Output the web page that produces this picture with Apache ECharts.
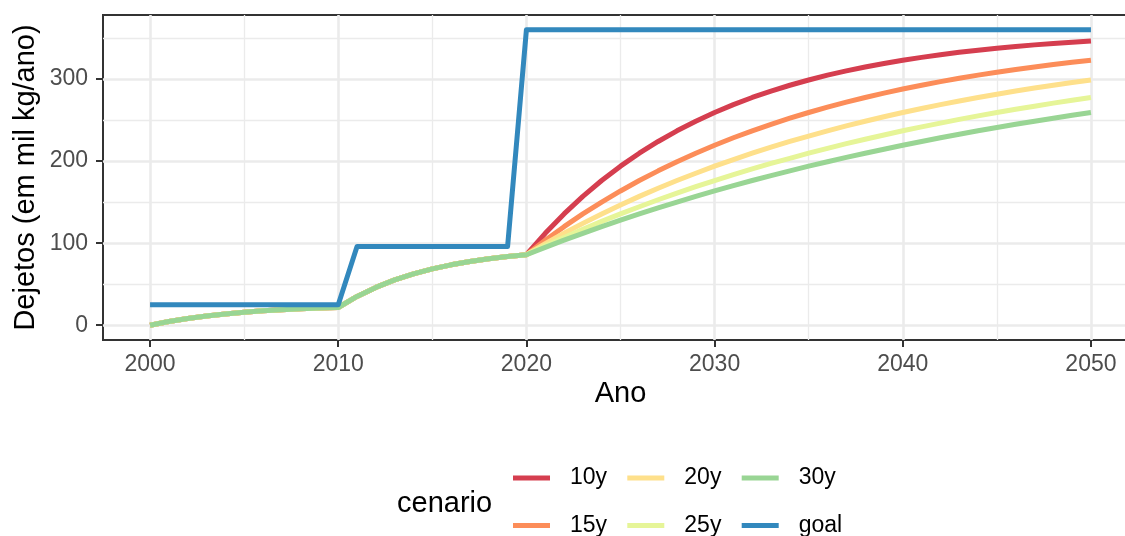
<!DOCTYPE html>
<html><head><meta charset="utf-8">
<script src="https://cdn.jsdelivr.net/npm/echarts@6/dist/echarts.min.js"></script>
<style>html,body{margin:0;padding:0;background:#fff}#c{width:1125px;height:536px}</style>
</head><body><div id="c"></div>
<script>
// ---------- data ----------
const years = [2000,2001,2002,2003,2004,2005,2006,2007,2008,2009,2010,2011,2012,2013,2014,2015,2016,2017,2018,2019,2020,
  2021,2022,2023,2024,2025,2026,2027,2028,2029,2030,2031,2032,2033,2034,2035,2036,2037,2038,2039,2040,
  2041,2042,2043,2044,2045,2046,2047,2048,2049,2050];
// 2000-2020, common to all scenarios
const shared = [0,4.5,8.2,11.3,13.8,15.8,17.5,18.8,20.0,20.9,21.6,35.1,46.1,55.2,62.6,68.6,73.6,77.7,81.0,83.7,85.9];
// 2021-2050 per scenario
const s10 = [112.0,135.6,157.0,176.3,193.8,209.6,223.9,236.9,248.6,259.2,268.8,277.5,285.3,292.4,298.8,304.7,309.9,314.7,319.0,322.9,326.4,329.6,332.5,335.1,337.5,339.6,341.6,343.3,344.9,346.4];
const s15 = [103.6,120.1,135.6,150.1,163.6,176.3,188.1,199.2,209.6,219.3,228.4,236.9,244.8,252.2,259.2,265.7,271.8,277.5,282.8,287.8,292.4,296.8,300.9,304.7,308.2,311.6,314.7,317.6,320.4,322.9];
const s20 = [99.3,112.0,124.1,135.6,146.6,157.0,166.9,176.3,185.2,193.8,201.9,209.6,216.9,223.9,230.5,236.9,242.9,248.6,254.0,259.2,264.1,268.8,273.2,277.5,281.5,285.3,289.0,292.4,295.7,298.8];
const s25 = [96.7,107.0,116.9,126.5,135.6,144.4,152.9,161.0,168.8,176.3,183.5,190.4,197.1,203.4,209.6,215.5,221.2,226.6,231.8,236.9,241.7,246.3,250.8,255.1,259.2,263.1,266.9,270.6,274.1,277.5];
const s30 = [94.9,103.6,112.0,120.1,128.0,135.6,143.0,150.1,157.0,163.6,170.1,176.3,182.3,188.1,193.8,199.2,204.5,209.6,214.5,219.3,223.9,228.4,232.7,236.9,240.9,244.8,248.6,252.2,255.8,259.2];
const goal = [25,25,25,25,25,25,25,25,25,25,25,96,96,96,96,96,96,96,96,96,360,
  360,360,360,360,360,360,360,360,360,360,360,360,360,360,360,360,360,360,360,360,
  360,360,360,360,360,360,360,360,360,360];
const scenarios = ['10y','15y','20y','25y','30y','goal'];
const colors = ['#D53E4F','#FC8D59','#FEE08B','#E6F598','#99D594','#3288BD'];
const xTicks = [2000,2010,2020,2030,2040,2050];
const yTicks = [0,100,200,300];

// ---------- layout ----------
const W = 1125, H = 536;
const P = {l:103, r:1138, t:15, b:340};
const xr = [1997.5, 2052.5], yr = [-18, 378];
const yHelperMax = 400;
function px(x){ return P.l + (x - xr[0]) / (xr[1] - xr[0]) * (P.r - P.l); }
function py(y){ return P.b - (y - yr[0]) / (yr[1] - yr[0]) * (P.b - P.t); }

const values = [shared.concat(s10), shared.concat(s15), shared.concat(s20), shared.concat(s25), shared.concat(s30), goal];
const FONT = '"Liberation Sans", Arial, Helvetica, sans-serif';
const gridCol = '#EBEBEB';

const chart = echarts.init(document.getElementById('c'), null, {renderer:'canvas'});
const hidden = {axisLine:{show:false}, axisTick:{show:false}, axisLabel:{show:false}, splitLine:{show:false}};
const legendBase = {
  type:'plain', orient:'vertical', top:466.5, height:150, width:110, padding:0, itemGap:24.5, itemWidth:37, itemHeight:5, icon:'rect',
  itemStyle:{borderWidth:0},
  formatter: n => '{t|' + n + '}',
  textStyle:{fontFamily:FONT, color:'#000', rich:{t:{fontFamily:FONT, fontSize:23, lineHeight:26, color:'#000', padding:[0,0,0,15]}}}
};
chart.setOption({
  animation:false,
  textStyle:{fontFamily:FONT},
  grid:[
    {left:P.l, right:W-P.r, top:P.t, bottom:H-P.b, show:true, borderColor:'#333333', borderWidth:2, backgroundColor:'transparent', containLabel:false, outerBoundsMode:'none'},
    {left:px(xTicks[0]), right:W-px(xTicks[xTicks.length-1]), top:P.t, bottom:H-P.b, containLabel:false, outerBoundsMode:'none'},
    {left:P.l, right:W-P.r, top:py(yHelperMax), bottom:H-py(yTicks[0]), containLabel:false, outerBoundsMode:'none'}
  ],
  xAxis:[
    Object.assign({gridIndex:0, type:'value', min:xr[0], max:xr[1], name:'Ano', nameLocation:'middle', nameGap:39,
      nameTextStyle:{fontSize:29, color:'#000', fontFamily:FONT}}, hidden),
    {gridIndex:1, type:'value', min:xTicks[0], max:xTicks[xTicks.length-1], interval:xTicks[1]-xTicks[0],
      axisLine:{show:false},
      axisTick:{show:true, length:7, lineStyle:{color:'#333333', width:2}},
      axisLabel:{margin:13, fontSize:23, color:'#4D4D4D', fontFamily:FONT, formatter:v => String(v)},
      splitLine:{show:true, lineStyle:{color:gridCol, width:2.6}},
      minorTick:{show:false, splitNumber:2},
      minorSplitLine:{show:true, lineStyle:{color:gridCol, width:1.3}}},
    Object.assign({gridIndex:2, type:'value', min:0, max:1}, hidden)
  ],
  yAxis:[
    Object.assign({gridIndex:0, type:'value', min:yr[0], max:yr[1], name:'Dejetos (em mil kg/ano)', nameLocation:'middle', nameGap:63,
      nameTextStyle:{fontSize:29, color:'#000', fontFamily:FONT}}, hidden),
    Object.assign({gridIndex:1, type:'value', min:0, max:1}, hidden),
    {gridIndex:2, type:'value', min:yTicks[0], max:yHelperMax, interval:yTicks[1]-yTicks[0],
      axisLine:{show:false},
      axisTick:{show:true, length:7, lineStyle:{color:'#333333', width:2}},
      axisLabel:{margin:15, fontSize:23, color:'#4D4D4D', fontFamily:FONT, showMaxLabel:false, formatter:v => String(v)},
      splitLine:{show:true, lineStyle:{color:gridCol, width:2.6}},
      minorTick:{show:false, splitNumber:2},
      minorSplitLine:{show:true, lineStyle:{color:gridCol, width:1.3}}}
  ],
  legend:[
    Object.assign({data:[scenarios[0], scenarios[1]], left:513}, legendBase),
    Object.assign({data:[scenarios[2], scenarios[3]], left:627.3}, legendBase),
    Object.assign({data:[scenarios[4], scenarios[5]], left:741.7}, legendBase)
  ],
  graphic:[
    {type:'text', left:397, top:489, style:{text:'cenario', fontSize:29, fontFamily:FONT, fill:'#000'}}
  ],
  series: scenarios.map((name, i) => ({
    name: name, type:'line', xAxisIndex:0, yAxisIndex:0,
    data: years.map((y, j) => [y, values[i][j]]),
    showSymbol:false, symbol:'none', color:colors[i],
    lineStyle:{color:colors[i], width:5, join:'round', cap:'butt'},
    z: 2 + i
  }))
});
</script>
</body></html>
